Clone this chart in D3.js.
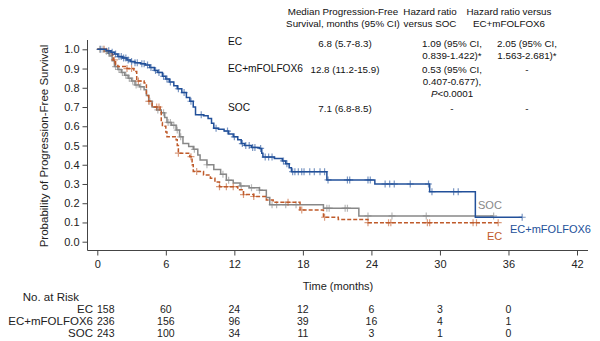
<!DOCTYPE html>
<html>
<head>
<meta charset="utf-8">
<script src="https://cdn.jsdelivr.net/npm/d3@7"></script>
<style>
  body { margin: 0; background: #fff; }
  svg { display: block; font-family: "Liberation Sans", Arial, sans-serif; }
  .axis text { font-size: 11px; fill: #222; }
  .axis line, .axis path { stroke: #444; }
  .tbl { font-size: 9.8px; fill: #111; }
</style>
</head>
<body>
<svg id="chart" width="600" height="341"></svg>
<script>
// step points of each curve: time (months) -> survival after the drop
const ecTimes = [0, 1.0, 1.3, 1.4, 1.6, 1.8, 2.6, 3.2, 3.45, 4.1, 4.3, 4.5, 4.8, 5.5, 5.6, 5.7, 6.0, 6.1, 6.9, 7.0, 7.1, 8.1, 8.3, 8.4, 9.3, 9.9, 10.3, 10.7, 12.3, 12.8, 13.7, 14.8, 15.4, 17.75, 19.8, 21.1, 23.7];
const ecSurv  = [1, 0.99, 0.97, 0.945, 0.92, 0.91, 0.9, 0.885, 0.835, 0.825, 0.76, 0.73, 0.7, 0.676, 0.62, 0.6, 0.57, 0.546, 0.53, 0.5, 0.46, 0.442, 0.4, 0.365, 0.347, 0.33, 0.31, 0.286, 0.27, 0.245, 0.235, 0.217, 0.205, 0.165, 0.127, 0.116, 0.099];
const ecEnd = 35.1;

const folTimes = [0, 0.8, 1.2, 1.5, 1.8, 2.2, 2.6, 2.9, 3.3, 3.8, 4.2, 4.6, 5.0, 5.3, 5.7, 6.0, 6.3, 6.7, 7.0, 7.4, 7.8, 8.1, 8.4, 8.6, 9.3, 9.7, 10.0, 10.2, 10.6, 11.1, 11.5, 11.9, 12.3, 12.6, 12.9, 13.5, 14.2, 14.4, 14.5, 15.5, 16.2, 16.5, 16.8, 17.0, 20.1, 24.3, 29.1, 33.1];
const folSurv  = [1, 0.993, 0.985, 0.975, 0.962, 0.955, 0.945, 0.936, 0.93, 0.925, 0.918, 0.905, 0.89, 0.88, 0.86, 0.845, 0.83, 0.81, 0.795, 0.775, 0.75, 0.73, 0.7, 0.66, 0.655, 0.64, 0.615, 0.59, 0.585, 0.575, 0.56, 0.545, 0.53, 0.51, 0.5, 0.49, 0.485, 0.46, 0.44, 0.432, 0.42, 0.405, 0.385, 0.364, 0.321, 0.3, 0.26, 0.127];
const folEnd = 37.2;

const socTimes = [0, 0.6, 0.9, 1.1, 1.3, 1.5, 1.8, 2.1, 2.4, 2.7, 3.0, 3.3, 3.7, 4.1, 4.3, 4.5, 4.8, 5.2, 5.6, 5.9, 6.1, 6.5, 6.9, 7.2, 7.5, 8.0, 8.4, 8.8, 9.0, 9.6, 10.2, 10.8, 11.3, 11.9, 12.5, 13.3, 14.2, 14.8, 15.1, 19.8, 22.9];
const socSurv  = [1, 0.99, 0.98, 0.965, 0.94, 0.91, 0.895, 0.88, 0.865, 0.85, 0.835, 0.815, 0.805, 0.79, 0.76, 0.73, 0.7, 0.685, 0.67, 0.645, 0.62, 0.605, 0.58, 0.545, 0.51, 0.495, 0.48, 0.45, 0.425, 0.4, 0.375, 0.35, 0.32, 0.305, 0.29, 0.28, 0.268, 0.23, 0.192, 0.174, 0.134];
const socEnd = 34.7;

// censored observations (months)
const ecCensor  = [0.6, 1.5, 2.6, 3.0, 3.6, 4.5, 5.2, 5.4, 7.1, 8.2, 8.7, 10.7, 11.3, 11.9, 12.8, 13.7, 16.7, 17.9, 19.9, 23.7, 25.5, 25.7, 28.9, 29.1, 32.9, 33.2, 35.1];
const folCensor = [0.3, 1.0, 1.3, 1.6, 1.9, 2.1, 2.3, 2.5, 2.7, 3.0, 3.3, 3.5, 3.9, 4.1, 4.4, 4.7, 5.1, 5.4, 5.8, 6.1, 6.4, 7.1, 7.6, 8.2, 9.1, 10.4, 11.4, 12.0, 12.7, 13.0, 13.3, 13.6, 13.8, 14.3, 14.7, 15.0, 15.3, 16.3, 16.6, 17.1, 17.3, 17.6, 17.9, 18.1, 18.6, 19.0, 19.5, 19.9, 20.2, 21.9, 22.1, 23.7, 23.9, 25.2, 25.6, 26.0, 27.4, 29.0, 29.3, 31.2, 31.6, 37.2];
const socCensor = [0.2, 0.5, 0.8, 1.0, 1.6, 1.9, 2.2, 2.5, 2.8, 3.1, 3.4, 3.8, 4.6, 5.3, 5.8, 6.2, 6.4, 6.7, 7.0, 7.3, 8.5, 9.6, 11.0, 11.5, 12.6, 13.5, 14.2, 15.3, 15.7, 16.5, 17.4, 20.1, 20.3, 21.7, 21.9, 23.7, 25.8, 28.8, 34.7];

const xTicks = [0, 6, 12, 18, 24, 30, 36, 42];
const yTicks = [0, 0.1, 0.2, 0.3, 0.4, 0.5, 0.6, 0.7, 0.8, 0.9, 1.0];

const riskGroups = ['EC', 'EC+mFOLFOX6', 'SOC'];
const riskEC  = [158, 60, 24, 12, 6, 3, 0];
const riskFOL = [236, 156, 96, 39, 16, 4, 1];
const riskSOC = [243, 100, 34, 11, 3, 1, 0];

const colBlue = '#22509a', colOrange = '#bf5a2a', colGrey = '#888888';

const svg = d3.select('#chart');

const x = d3.scaleLinear().domain([0, 42]).range([97.3, 577]);
const y = d3.scaleLinear().domain([0, 1]).range([241.7, 49.3]);

// y axis
const gy = svg.append('g').attr('class', 'axis').attr('transform', 'translate(87.5,0)')
    .call(d3.axisLeft(y).tickValues(yTicks).tickSize(5).tickPadding(3).tickFormat(d3.format('.1f')));
gy.select('.domain').remove();
gy.append('line').attr('x1', 0).attr('x2', 0).attr('y1', 40).attr('y2', 250.5).attr('stroke', '#444');

// x axis
const gx = svg.append('g').attr('class', 'axis').attr('transform', 'translate(0,250.5)')
    .call(d3.axisBottom(x).tickValues(xTicks).tickSize(5).tickPadding(5));
gx.select('.domain').remove();
gx.append('line').attr('x1', 87.5).attr('x2', 588).attr('y1', 0).attr('y2', 0).attr('stroke', '#444');

svg.append('text').attr('transform', 'translate(48,146) rotate(-90)')
    .attr('text-anchor', 'middle').attr('font-size', 11.5).attr('fill', '#222')
    .text('Probability of Progression-Free Survival');
svg.append('text').attr('x', 338).attr('y', 290).attr('text-anchor', 'middle')
    .attr('font-size', 11).attr('fill', '#222').text('Time (months)');

// curves
const line = d3.line().x(d => x(d[0])).y(d => y(d[1])).curve(d3.curveStepAfter);
const bis = d3.bisector(d => d).right;

function drawCurve(times, surv, end, censor, color, dash) {
  const pts = times.map((t, i) => [t, surv[i]]);
  pts.push([end, surv[surv.length - 1]]);
  svg.append('path').datum(pts).attr('d', line)
    .attr('fill', 'none').attr('stroke', color).attr('stroke-width', 1.5)
    .attr('stroke-dasharray', dash || null);
  svg.append('g').selectAll('path').data(censor).join('path')
    .attr('d', t => {
      const s = surv[Math.max(0, bis(times, t) - 1)];
      const cx = x(t), cy = y(s);
      return `M${cx - 3.5},${cy}H${cx + 3.5}M${cx},${cy - 3.5}V${cy + 3.5}`;
    })
    .attr('stroke', color).attr('stroke-opacity', 0.6).attr('stroke-width', 1.2);
}

drawCurve(socTimes, socSurv, socEnd, socCensor, colGrey);
drawCurve(ecTimes, ecSurv, ecEnd, ecCensor, colOrange, '4,2');
drawCurve(folTimes, folSurv, folEnd, folCensor, colBlue);

// curve labels
svg.append('text').attr('x', 478).attr('y', 209).attr('font-size', 11).attr('fill', colGrey).text('SOC');
svg.append('text').attr('x', 487).attr('y', 240).attr('font-size', 11).attr('fill', colOrange).text('EC');
svg.append('text').attr('x', 510).attr('y', 233).attr('font-size', 11).attr('fill', colBlue).text('EC+mFOLFOX6');

// summary table
const tbl = svg.append('g').attr('class', 'tbl');
function tline(tx, ty, str, anchor) {
  return tbl.append('text').attr('x', tx).attr('y', ty).attr('text-anchor', anchor || 'middle').text(str);
}
tline(343, 14.5, 'Median Progression-Free');
tline(343, 27, 'Survival, months (95% CI)');
tline(430, 14.5, 'Hazard ratio');
tline(430, 27, 'versus SOC');
tline(509, 14.5, 'Hazard ratio versus');
tline(509, 27, 'EC+mFOLFOX6');

tbl.append('g').attr('font-size', 10.2).call(g => {
  g.append('text').attr('x', 228).attr('y', 45).text('EC');
  g.append('text').attr('x', 228).attr('y', 72).text('EC+mFOLFOX6');
  g.append('text').attr('x', 228).attr('y', 111).text('SOC');
});

tline(345, 46.5, '6.8 (5.7-8.3)');
tline(345, 73, '12.8 (11.2-15.9)');
tline(345, 111.5, '7.1 (6.8-8.5)');

tline(452, 46.5, '1.09 (95% CI,');
tline(452, 58.5, '0.839-1.422)*');
tline(452, 73, '0.53 (95% CI,');
tline(452, 85, '0.407-0.677),');
const p = tline(452, 97, '');
p.append('tspan').attr('font-style', 'italic').text('P');
p.append('tspan').text('<0.0001');
tline(452, 111.5, '-');

tline(527, 46.5, '2.05 (95% CI,');
tline(527, 58.5, '1.563-2.681)*');
tline(527, 73, '-');
tline(527, 111.5, '-');

// number at risk
const risk = svg.append('g').attr('font-size', 10.5).attr('fill', '#222');
risk.append('text').attr('x', 79).attr('y', 301).attr('text-anchor', 'end').attr('font-size', 11.5).text('No. at Risk');
[riskEC, riskFOL, riskSOC].forEach((row, i) => {
  const ry = 313 + i * 12;
  risk.append('text').attr('x', 93).attr('y', ry).attr('text-anchor', 'end').attr('font-size', 11.5).text(riskGroups[i]);
  row.forEach((v, j) => {
    risk.append('text').attr('x', j === 0 ? 97 : x(xTicks[j]))
      .attr('y', ry).attr('text-anchor', j === 0 ? 'start' : 'middle').text(v);
  });
});
</script>
</body>
</html>
